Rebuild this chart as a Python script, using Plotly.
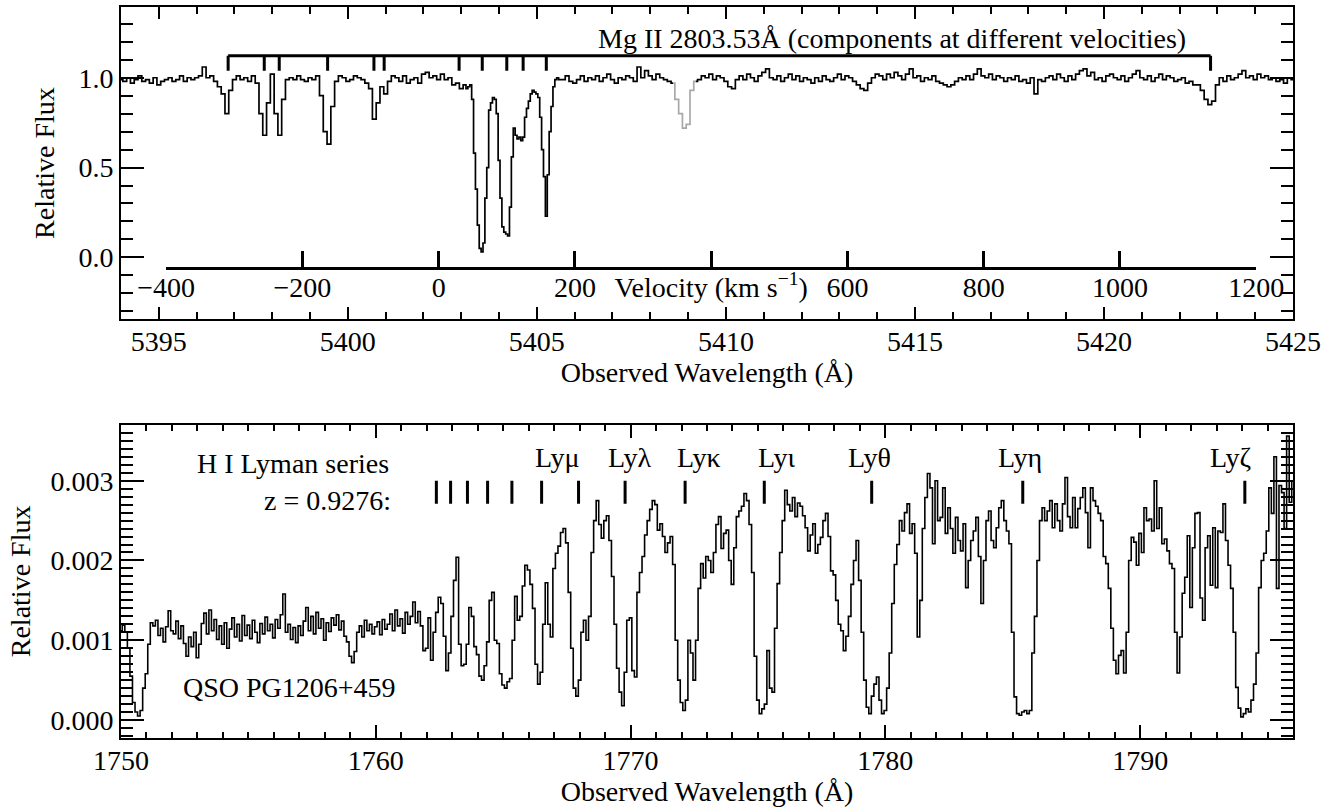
import numpy as np
import plotly.graph_objects as go

FONT = "Liberation Serif"
FS = 28

# ---------------- Top panel: Mg II 2803.53 A ----------------
top_lambda_start = 5394.0
top_lambda_step = 0.1
top_flux_pct = [
    99, 98, 100, 97, 99, 101, 98, 99, 97, 100,
    96, 98, 99, 100, 98, 99, 101, 98, 100, 99,
    100, 101, 106, 100, 101, 98, 95, 91, 80, 93,
    99, 101, 99, 100, 98, 101, 97, 80, 68, 86,
    102, 80, 68, 88, 99, 100, 99, 101, 99, 98,
    100, 99, 101, 90, 70, 63, 84, 98, 101, 100,
    98, 99, 101, 100, 99, 97, 94, 77, 86, 95,
    91, 98, 101, 100, 98, 101, 97, 99, 100, 97,
    102, 103, 100, 101, 99, 102, 99, 100, 96, 97,
    94, 96, 95, 93, 52, 10, 5, 30, 84, 89,
    64, 25, 14, 13, 60, 72, 66, 70, 84, 91,
    92, 86, 55, 23, 75, 96, 100, 99, 101, 98,
    97, 99, 101, 98, 100, 99, 101, 98, 100, 102,
    99, 97, 100, 99, 101, 100, 98, 106, 100, 104,
    101, 99, 102, 100, 99, 98, 97, 88, 80, 72,
    74, 93, 98, 99, 101, 100, 102, 99, 101, 100,
    98, 95, 94, 99, 101, 99, 102, 100, 98, 101,
    103, 105, 100, 99, 101, 98, 100, 102, 99, 101,
    98, 100, 99, 97, 100, 98, 101, 99, 98, 100,
    102, 99, 101, 100, 98, 96, 94, 93, 97, 100,
    102, 101, 99, 102, 100, 103, 101, 99, 102, 105,
    100, 101, 98, 100, 99, 101, 98, 97, 96, 95,
    96, 98, 100, 99, 101, 99, 102, 105, 101, 100,
    102, 99, 101, 100, 98, 100, 99, 101, 98, 99,
    97, 100, 91, 99, 98, 100, 101, 99, 102, 100,
    98, 101, 99, 102, 104, 105, 101, 103, 99, 100,
    98, 101, 102, 100, 99, 101, 98, 100, 102, 104,
    100, 99, 101, 98, 100, 102, 99, 101, 100, 98,
    99, 100, 97, 98, 96, 96, 93, 88, 85, 87,
    96, 100, 98, 101, 99, 100, 102, 104, 100, 101,
    99, 102, 100, 101, 99, 100, 98, 99, 97, 100, 99,
]
# finer sampling across the strong absorption complex
top_fine_start = 5403.15
top_fine_step = 0.05
top_fine_flux_pct = [
    94, 95, 96, 88, 58, 38, 18, 5, 3, 8,
    33, 50, 82, 86, 89, 88, 80, 54, 33, 17,
    14, 13, 12, 28, 56, 72, 68, 66, 67, 65,
    67, 78, 83, 87, 91, 93, 92, 91, 89, 78,
    60, 45, 23, 46, 70, 84, 95, 99, 100, 99,
]
gray_lambda_range = (5408.6, 5409.2)
mg_rest = 2803.53
z_mg = 0.9270
component_velocities = [-309, -256, -234, -163, -95, -80, 30, 64, 100, 124, 158, 1133]
velocity_ticks = [-400, -200, 0, 200, 400, 600, 800, 1000, 1200]
velocity_ticktext = ["\u2212400", "\u2212200", "0", "200",
                     "Velocity (km s<sup>\u22121</sup>)", "600", "800", "1000", "1200"]
top_title = "Mg II 2803.53\u00c5 (components at different velocities)"

# ---------------- Bottom panel: H I Lyman series ----------------
bot_lambda_start = 1750.0
bot_lambda_step = 0.1
bot_flux_e5 = [
    112, 119, 110, 90, 55, 22, 10, 5, 12, 40,
    58, 95, 122, 118, 125, 106, 115, 98, 117, 137,
    112, 108, 124, 102, 118, 96, 80, 104, 92, 110,
    78, 95, 121, 134, 108, 138, 112, 126, 101, 118,
    95, 122, 90, 114, 128, 104, 120, 99, 131, 106,
    119, 102, 125, 110, 97, 121, 108, 129, 112, 120,
    103, 126, 115, 132, 158, 110, 120, 101, 116, 97,
    118, 106, 124, 141, 112, 130, 108, 135, 115, 127,
    100, 122, 111, 128, 119, 132, 113, 124, 105, 98,
    80, 72, 86, 110, 118, 104, 125, 112, 120, 108,
    117, 123, 107, 126, 114, 120, 133, 112, 138, 118,
    127, 109, 135, 120, 130, 148, 122, 136, 118, 87,
    90, 128, 75, 110, 135, 154, 146, 105, 62, 84,
    130, 175, 204, 95, 68, 70, 95, 141, 130, 92,
    82, 55, 50, 68, 98, 150, 160, 100, 96, 58,
    44, 40, 48, 52, 100, 155, 125, 130, 168, 194,
    188, 170, 140, 70, 45, 60, 120, 172, 120, 104,
    190, 209, 218, 235, 240, 222, 160, 90, 40, 30,
    50, 110, 125, 100, 130, 210, 250, 275, 245, 228,
    250, 256, 225, 180, 120, 65, 35, 18, 60, 125,
    128, 62, 54, 160, 185, 205, 232, 250, 264, 275,
    270, 238, 246, 230, 210, 222, 230, 195, 100, 50,
    22, 12, 25, 100, 84, 50, 100, 165, 196, 178,
    205, 200, 185, 210, 245, 255, 215, 234, 238, 200,
    170, 216, 255, 262, 268, 284, 275, 245, 185, 80,
    25, 8, 14, 20, 87, 40, 35, 115, 171, 210,
    250, 288, 270, 262, 279, 255, 272, 268, 256, 241,
    212, 232, 246, 209, 220, 229, 250, 259, 230, 187,
    182, 150, 120, 112, 87, 105, 130, 170, 200, 225,
    175, 110, 50, 16, 8, 30, 45, 54, 25, 8,
    12, 40, 84, 146, 195, 220, 250, 237, 260, 271,
    234, 246, 209, 104, 150, 240, 279, 309, 291, 221,
    300, 250, 254, 291, 234, 266, 240, 209, 254, 225,
    212, 246, 166, 200, 225, 237, 254, 205, 146, 200,
    250, 262, 225, 216, 241, 266, 275, 250, 237, 221,
    110, 29, 8, 6, 10, 12, 8, 12, 84, 130,
    200, 250, 266, 250, 262, 275, 241, 271, 250, 237,
    271, 304, 255, 241, 279, 241, 265, 279, 291, 260,
    216, 291, 275, 268, 259, 250, 205, 196, 165, 115,
    75, 58, 81, 87, 59, 110, 200, 229, 223, 194,
    234, 210, 266, 250, 252, 237, 300, 240, 266, 221,
    227, 212, 196, 190, 110, 59, 104, 159, 179, 231,
    141, 216, 259, 260, 153, 125, 216, 231, 169, 241,
    166, 237, 235, 271, 225, 194, 165, 110, 41, 15,
    4, 8, 14, 10, 25, 45, 84, 166, 200, 209,
    237, 291, 259, 330, 165, 294, 285, 240, 356, 273,
    300,
]
z_lyman = 0.9276
lyman_rest = [930.748, 926.226, 923.150, 920.963, 919.351, 918.129, 917.181,
              916.429, 915.824, 915.329, 914.919, 914.576, 914.286]
lyman_labels = ["Ly\u03b6", "Ly\u03b7", "Ly\u03b8", "Ly\u03b9", "Ly\u03ba", "Ly\u03bb", "Ly\u03bc"]
lyman_label_x = [1793.55, 1785.30, 1779.37, 1775.76, 1772.69, 1769.98, 1767.15]

# ---------------- axes ranges ----------------
top_xr = [5394.0, 5425.0]
top_yr = [-0.344, 1.394]
bot_xr = [1750.0, 1796.0]
bot_yr = [-0.000225, 0.0037]
top_dom = [0.573, 1.0]
bot_dom = [0.0, 0.4284]

# ---------------- derived ----------------
C_KMS = 299792.458
lam0 = mg_rest * (1 + z_mg)


def v2lam(v):
    return lam0 * (1 + v / C_KMS)


def xfrac(lam):
    return (lam - top_xr[0]) / (top_xr[1] - top_xr[0])


eps = 1e-6
coarse_wave = top_lambda_start + top_lambda_step * np.arange(len(top_flux_pct))
coarse_flux = np.array(top_flux_pct, dtype=float) / 100.0
fine_wave = top_fine_start + top_fine_step * np.arange(len(top_fine_flux_pct))
fine_flux = np.array(top_fine_flux_pct, dtype=float) / 100.0
keep = (coarse_wave < fine_wave[0] - eps) | (coarse_wave > fine_wave[-1] + eps)
top_wave = np.concatenate([coarse_wave[keep], fine_wave])
top_flux = np.concatenate([coarse_flux[keep], fine_flux])
order = np.argsort(top_wave)
top_wave, top_flux = top_wave[order], top_flux[order]

in_gray_open = (top_wave > gray_lambda_range[0] + eps) & (top_wave < gray_lambda_range[1] - eps)
in_gray_closed = (top_wave >= gray_lambda_range[0] - eps) & (top_wave <= gray_lambda_range[1] + eps)
black_flux = [None if g else float(f) for f, g in zip(top_flux, in_gray_open)]

bot_wave = bot_lambda_start + bot_lambda_step * np.arange(len(bot_flux_e5))
bot_flux = np.array(bot_flux_e5, dtype=float) * 1e-5

fig = go.Figure()
# dummy trace so the velocity axis is drawn (added first so it sits underneath)
fig.add_trace(go.Scatter(x=[velocity_ticks[0], velocity_ticks[-1]], y=[None, None], mode="lines",
                         xaxis="x3", yaxis="y", showlegend=False, hoverinfo="skip"))
fig.add_trace(go.Scatter(x=top_wave.tolist(), y=black_flux, mode="lines",
                         line=dict(color="black", width=1.7, shape="hvh"),
                         xaxis="x", yaxis="y", showlegend=False, hoverinfo="skip"))
fig.add_trace(go.Scatter(x=top_wave[in_gray_closed].tolist(), y=top_flux[in_gray_closed].tolist(),
                         mode="lines", line=dict(color="#a8a8a8", width=1.7, shape="hvh"),
                         xaxis="x", yaxis="y", showlegend=False, hoverinfo="skip"))
fig.add_trace(go.Scatter(x=bot_wave.tolist(), y=bot_flux.tolist(), mode="lines",
                         line=dict(color="black", width=1.6, shape="hvh"),
                         xaxis="x2", yaxis="y2", showlegend=False, hoverinfo="skip"))

shapes = []
# component bar
bar_y, tick_y = 1.122, 1.039
shapes.append(dict(type="line", xref="x", yref="y",
                   x0=v2lam(component_velocities[0]), x1=v2lam(component_velocities[-1]),
                   y0=bar_y, y1=bar_y, line=dict(color="black", width=3)))
for v in component_velocities:
    shapes.append(dict(type="line", xref="x", yref="y", x0=v2lam(v), x1=v2lam(v),
                       y0=bar_y, y1=tick_y, line=dict(color="black", width=3)))
# Lyman series ticks
for r in lyman_rest:
    lam = r * (1 + z_lyman)
    shapes.append(dict(type="line", xref="x2", yref="y2", x0=lam, x1=lam,
                       y0=0.00271, y1=0.0030, line=dict(color="black", width=3)))

font = dict(family=FONT, size=FS, color="black")
ann = []
ann.append(dict(x=5414.39, y=1.217, xref="x", yref="y", text=top_title, showarrow=False, font=font))
ann.append(dict(x=1756.74, y=0.00321, xref="x2", yref="y2", text="H I Lyman series",
                showarrow=False, font=font))
ann.append(dict(x=1760.67, y=0.00275, xref="x2", yref="y2", text="z = 0.9276:",
                showarrow=False, font=font, xanchor="right"))
ann.append(dict(x=1756.62, y=0.000412, xref="x2", yref="y2", text="QSO PG1206+459",
                showarrow=False, font=font))
for lab, lx in zip(lyman_labels, lyman_label_x):
    ann.append(dict(x=lx, y=0.00329, xref="x2", yref="y2", text=lab, showarrow=False, font=font))

common = dict(showline=True, linecolor="black", linewidth=2, mirror="ticks", ticks="inside",
              tickcolor="black", tickwidth=1.5, showgrid=False, zeroline=False,
              tickfont=font)

vel_dom = [xfrac(v2lam(velocity_ticks[0])), xfrac(v2lam(velocity_ticks[-1]))]
vel_flux_level = -0.061
vel_pos = top_dom[0] + (vel_flux_level - top_yr[0]) / (top_yr[1] - top_yr[0]) * (top_dom[1] - top_dom[0])

fig.update_layout(
    width=1340, height=812,
    margin=dict(l=121, r=47, t=5, b=74),
    paper_bgcolor="white", plot_bgcolor="rgba(0,0,0,0)",
    font=font,
    shapes=shapes, annotations=ann,
    xaxis=dict(common, domain=[0, 1], range=top_xr, anchor="y", tick0=5395, dtick=5, ticklen=12,
               ticklabelstandoff=-4,
               minor=dict(dtick=1, ticklen=7, ticks="inside", tickcolor="black", tickwidth=1.5),
               title=dict(text="Observed Wavelength (\u00c5)", font=font, standoff=2)),
    yaxis=dict(common, domain=top_dom, range=top_yr, anchor="x", tick0=0, dtick=0.5, ticklen=23,
               tickformat=".1f",
               minor=dict(dtick=0.1, ticklen=12, ticks="inside", tickcolor="black", tickwidth=1.5),
               title=dict(text="Relative Flux", font=font, standoff=16)),
    xaxis3=dict(domain=vel_dom, range=[velocity_ticks[0], velocity_ticks[-1]], anchor="free",
                position=vel_pos, side="bottom", showline=True, linecolor="black", linewidth=2.5,
                ticks="inside", ticklen=17, tickwidth=2.5, tickcolor="black",
                tickvals=velocity_ticks, ticktext=velocity_ticktext, tickfont=font,
                ticklabelstandoff=-7, showgrid=False, zeroline=False),
    xaxis2=dict(common, domain=[0, 1], range=bot_xr, anchor="y2", tick0=1750, dtick=10, ticklen=13,
                ticklabelstandoff=-4,
                minor=dict(dtick=1, ticklen=6, ticks="inside", tickcolor="black", tickwidth=1.5),
                title=dict(text="Observed Wavelength (\u00c5)", font=font, standoff=2)),
    yaxis2=dict(common, domain=bot_dom, range=bot_yr, anchor="x2", tick0=0, dtick=0.001, ticklen=23,
                tickformat=".3f",
                minor=dict(dtick=0.0001, ticklen=12, ticks="inside", tickcolor="black", tickwidth=1.5),
                title=dict(text="Relative Flux", font=font, standoff=12)),
)

fig.write_html("out.html", config={"displayModeBar": False},
               post_script="document.body.style.margin='0px';")
